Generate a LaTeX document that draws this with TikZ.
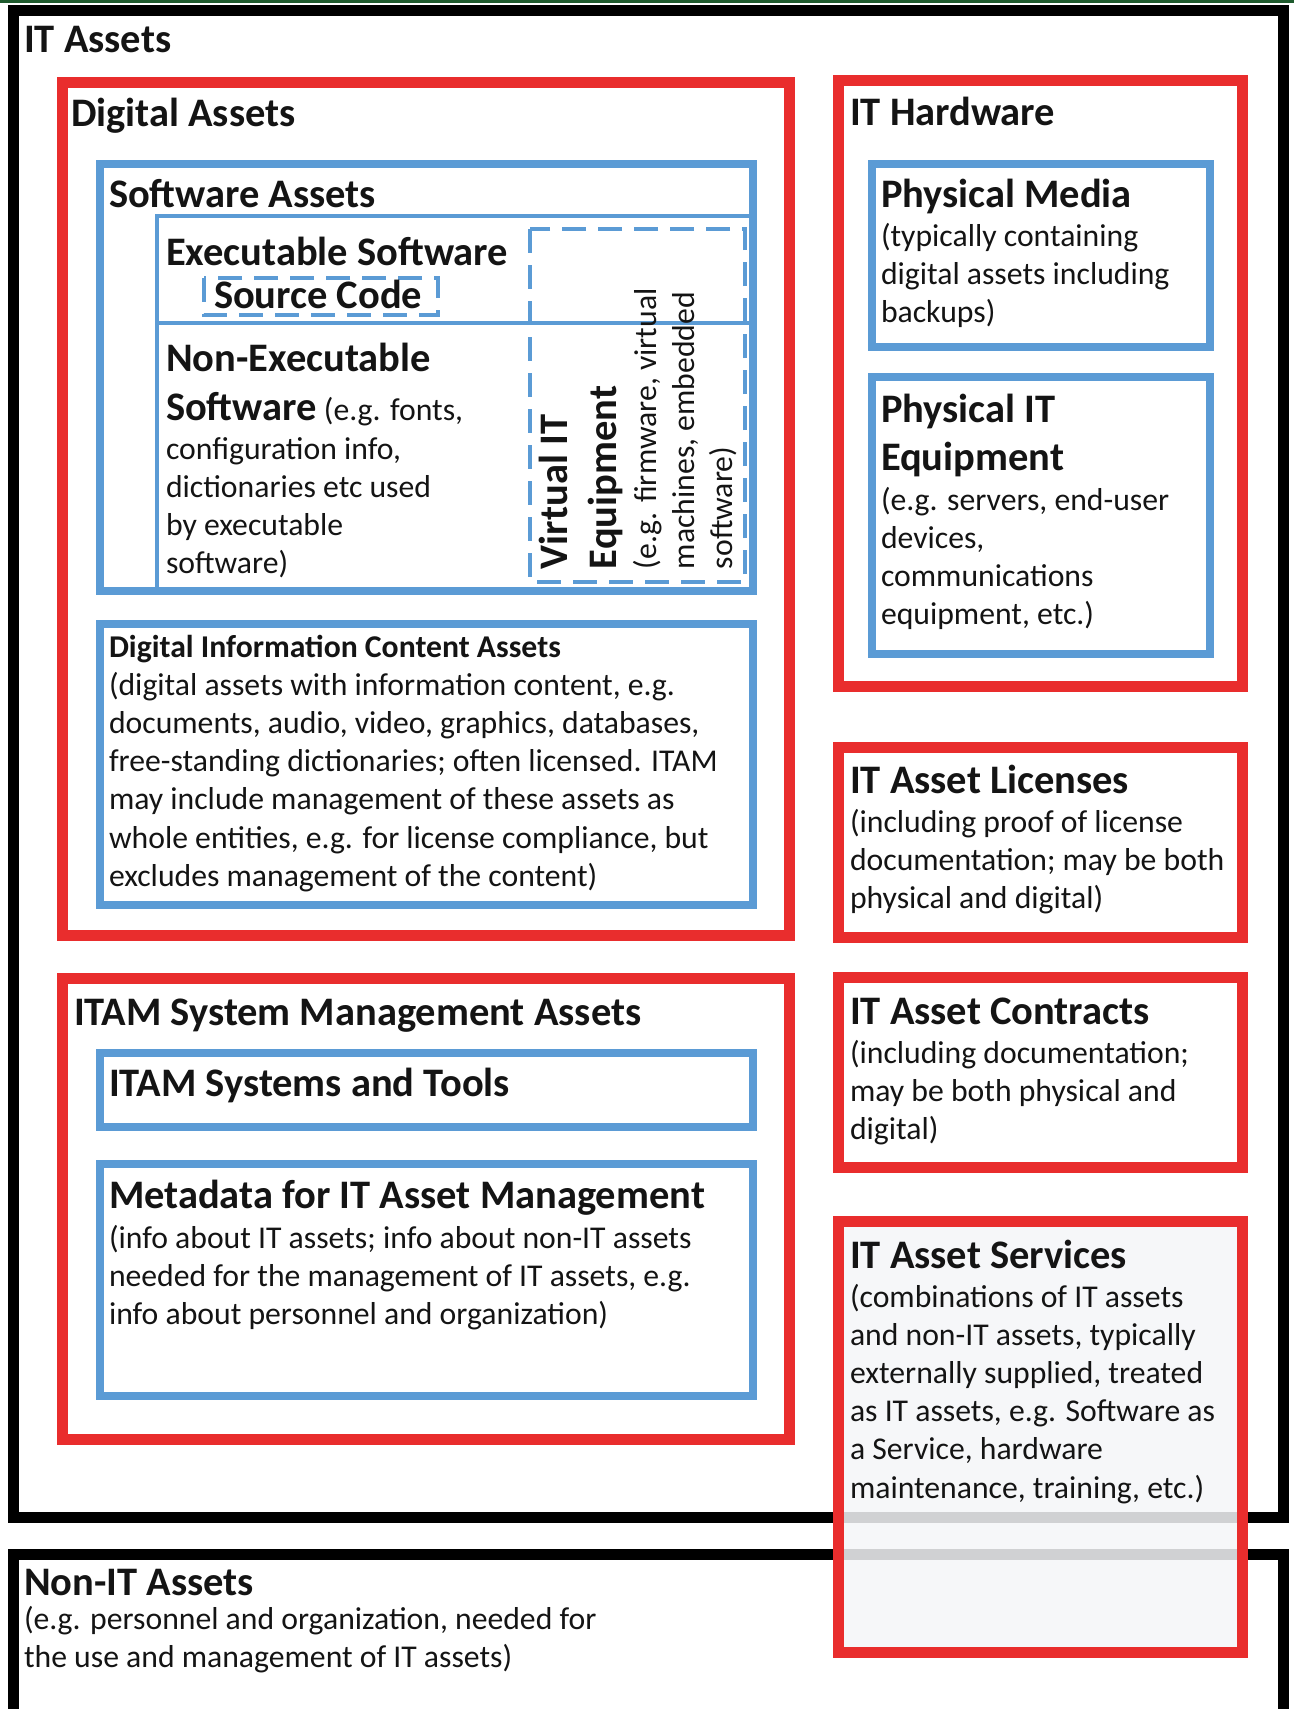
\documentclass[tikz,border=0pt]{standalone}
\usepackage{fontspec}
\setmainfont{Carlito}
\definecolor{itred}{RGB}{233,45,45}
\definecolor{itblue}{RGB}{91,155,213}
\definecolor{topgreen}{RGB}{30,90,45}
\definecolor{svcfill}{RGB}{245,246,248}
\newcommand\Hd{\fontsize{40.5}{48}\selectfont\bfseries}
\newcommand\Bd{\fontsize{31.7}{38.2}\selectfont}
\newcommand\Row[1]{\hbox{#1}}
\newcommand\Gap[1]{\vskip#1\relax}
\newcommand\Blk[1]{\vtop{\Bd\baselineskip=38.2pt\lineskiplimit=-1000pt\lineskip=0pt #1}}
\tikzset{
  txt/.style={anchor=base west, inner sep=0pt, outer sep=0pt, text=black!92},
  blackbox/.style={draw=black, line width=11pt},
  redbox/.style={draw=itred, line width=11pt},
  bluebox/.style={draw=itblue, line width=7.5pt},
  bluethin/.style={draw=itblue, line width=4pt},
  bluedash/.style={draw=itblue, line width=4pt, dash pattern=on 24pt off 12pt},
}
\begin{document}
\begin{tikzpicture}[x=1pt,y=-1pt]
\useasboundingbox (0,0) rectangle (1294,1709);
\clip (0,0) rectangle (1294,1709);
\fill[white] (0,0) rectangle (1294,1709);
\fill[topgreen] (0,0) rectangle (1294,3);

% black outer boxes
\draw[blackbox] (13,10) rectangle (1283,1517);
\draw[blackbox] (13,1760) -- (13,1554) -- (1283,1554) -- (1283,1760);

% red boxes
\draw[redbox] (62,82) rectangle (789,935);
\draw[redbox] (62,978) rectangle (789,1439);
\draw[redbox] (838,80) rectangle (1242,686);
\draw[redbox] (838,747) rectangle (1242,937);
\draw[redbox] (838,977) rectangle (1242,1167);
\fill[svcfill, fill opacity=0.85] (838,1221) rectangle (1242,1652);
\draw[redbox] (838,1221) rectangle (1242,1652);

% blue boxes
\draw[bluebox] (100,164) rectangle (753,591);
\draw[bluethin] (157,591) -- (157,216) -- (753,216);
\draw[bluethin] (157,323) -- (753,323);
\draw[bluedash] (530,229) rectangle (745,582);
\draw[bluedash] (204,278) rectangle (438,315);
\draw[bluebox] (100,624) rectangle (753,905);
\draw[bluebox] (100,1053) rectangle (753,1127);
\draw[bluebox] (100,1164) rectangle (753,1396);
\draw[bluebox] (872,164) rectangle (1210,347);
\draw[bluebox] (872,377) rectangle (1210,654);

% texts: left column
\node[txt] (itassets) at (24,52) {\Hd IT Assets};
\node[txt] (digital) at (71,126) {\Hd Digital Assets};
\node[txt] (software) at (109,207) {\Hd Software Assets};
\node[txt] (exec) at (166,265) {\Hd Executable Software};
\node[txt] (source) at (214,308) {\Hd Source Code};
\node[txt] (nonexec) at (166,371) {\Blk{%
  \Row{\Hd Non-Executable}\Gap{10.8pt}%
  \Row{{\Hd Software} (e.g. fonts,}\Gap{0.8pt}%
  \Row{configuration info,}%
  \Row{dictionaries etc used}%
  \Row{by executable}%
  \Row{software)}}};
\node[txt, rotate=90] (virtual) at (567,569) {\Blk{%
  \Row{\Hd Virtual IT}\Gap{11pt}%
  \Row{\Hd Equipment}\Gap{2pt}%
  \Row{(e.g. firmware, virtual}%
  \Row{machines, embedded}%
  \Row{software)}}};
\node[txt] (dic) at (109,657) {\Blk{%
  \Row{\bfseries Digital Information Content Assets}%
  \Row{(digital assets with information content, e.g.}%
  \Row{documents, audio, video, graphics, databases,}%
  \Row{free-standing dictionaries; often licensed. ITAM}%
  \Row{may include management of these assets as}%
  \Row{whole entities, e.g. for license compliance, but}%
  \Row{excludes management of the content)}}};
\node[txt] (itamsys) at (74,1025) {\Hd ITAM System Management Assets};
\node[txt] (tools) at (109,1096) {\Hd ITAM Systems and Tools};
\node[txt] (meta) at (109,1208) {\Blk{%
  \Row{\Hd Metadata for IT Asset Management}\Gap{1.8pt}%
  \Row{(info about IT assets; info about non-IT assets}%
  \Row{needed for the management of IT assets, e.g.}%
  \Row{info about personnel and organization)}}};
\node[txt] (nonit) at (24,1595) {\Blk{%
  \Row{\Hd Non-IT Assets}\Gap{-4pt}%
  \Row{(e.g. personnel and organization, needed for}%
  \Row{the use and management of IT assets)}}};

% texts: right column
\node[txt] (hardware) at (850,125) {\Hd IT Hardware};
\node[txt] (media) at (881,207) {\Blk{%
  \Row{\Hd Physical Media}\Gap{0.8pt}%
  \Row{(typically containing}%
  \Row{digital assets including}%
  \Row{backups)}}};
\node[txt] (equip) at (881,422) {\Blk{%
  \Row{\Hd Physical IT}\Gap{9.8pt}%
  \Row{\Hd Equipment}\Gap{1.8pt}%
  \Row{(e.g. servers, end-user}%
  \Row{devices,}%
  \Row{communications}%
  \Row{equipment, etc.)}}};
\node[txt] (licenses) at (850,793) {\Blk{%
  \Row{\Hd IT Asset Licenses}\Gap{0.8pt}%
  \Row{(including proof of license}%
  \Row{documentation; may be both}%
  \Row{physical and digital)}}};
\node[txt] (contracts) at (850,1024) {\Blk{%
  \Row{\Hd IT Asset Contracts}\Gap{0.8pt}%
  \Row{(including documentation;}%
  \Row{may be both physical and}%
  \Row{digital)}}};
\node[txt] (services) at (850,1268) {\Blk{%
  \Row{\Hd IT Asset Services}\Gap{0.8pt}%
  \Row{(combinations of IT assets}%
  \Row{and non-IT assets, typically}%
  \Row{externally supplied, treated}%
  \Row{as IT assets, e.g. Software as}%
  \Row{a Service, hardware}%
  \Row{maintenance, training, etc.)}}};
\end{tikzpicture}
\end{document}
